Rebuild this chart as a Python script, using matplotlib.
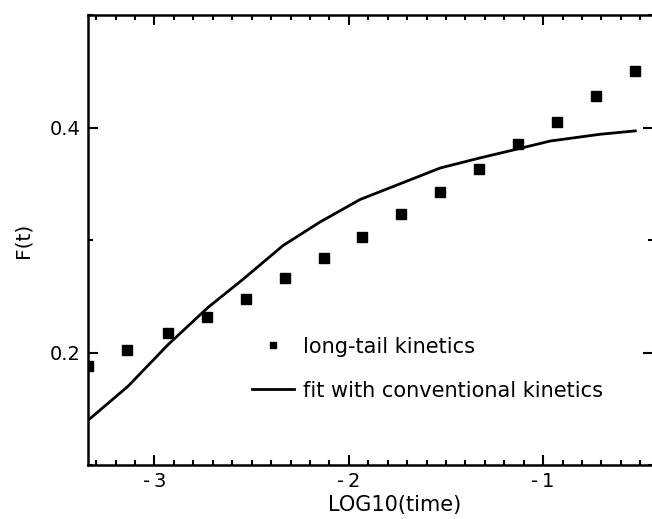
import matplotlib
matplotlib.use('Agg')
import matplotlib.pyplot as plt
from matplotlib.ticker import MultipleLocator, FixedLocator

plt.rcParams['font.family'] = ['DejaVu Sans']
plt.rcParams['axes.unicode_minus'] = False

# long-tail kinetics (squares)
log_t = [-3.34, -3.14, -2.93, -2.73, -2.53, -2.33, -2.13, -1.93,
         -1.73, -1.53, -1.33, -1.13, -0.93, -0.73, -0.53]
f_long = [0.188, 0.202, 0.217, 0.232, 0.248, 0.266, 0.284, 0.303,
          0.323, 0.343, 0.363, 0.385, 0.405, 0.428, 0.450]

# fit with conventional kinetics (line)
fit_x = [-3.34, -3.136, -2.93, -2.725, -2.545, -2.339, -2.148, -1.942,
         -1.721, -1.53, -1.324, -1.154, -0.963, -0.706, -0.526]
fit_y = [0.140, 0.170, 0.207, 0.240, 0.265, 0.295, 0.316, 0.336,
         0.351, 0.364, 0.373, 0.380, 0.388, 0.394, 0.397]

xticks = [-3, -2, -1]
xticklabels = ['-\u20093', '-\u20092', '-\u20091']
yticks = [0.2, 0.4]
yticklabels = ['0.2', '0.4']

fig = plt.figure(figsize=(6.52, 5.19), dpi=100)
ax = fig.add_axes([88/652, 1 - 465/519, 565/652, 450/519])

ax.plot(log_t, f_long, 'ks', ms=7, linestyle='none', label='long-tail kinetics')
ax.plot(fit_x, fit_y, 'k-', lw=2, label='fit with conventional kinetics')

ax.set_xlim(-3.342, -0.435)
ax.set_ylim(0.1, 0.5)

ax.set_xticks(xticks)
ax.set_xticklabels(xticklabels)
ax.xaxis.set_minor_locator(MultipleLocator(0.1))
ax.set_yticks(yticks)
ax.set_yticklabels(yticklabels)
ax.yaxis.set_minor_locator(FixedLocator([0.1, 0.3, 0.5]))

ax.tick_params(which='both', direction='in', top=True, right=True, labelsize=14, width=1.5)
ax.tick_params(which='major', length=7.5)
ax.tick_params(axis='y', which='major', pad=5)
ax.tick_params(axis='x', which='major', pad=5)
ax.tick_params(which='minor', length=3.5)
for s in ['left', 'top', 'bottom']:
    ax.spines[s].set_linewidth(1.8)
ax.spines['right'].set_visible(False)

ax.set_xlabel('LOG10(time)', fontsize=15)
ax.xaxis.set_label_coords((395 - 88) / 565, -0.066)
ax.set_ylabel('F(t)', fontsize=14.5)
ax.yaxis.set_label_coords(-0.099, 0.5)

ax.legend(loc='upper left', bbox_to_anchor=(0.29, 0.285), frameon=False,
          fontsize=15, markerscale=0.6, handlelength=2.0, handletextpad=0.45,
          labelspacing=1.15, borderpad=0, borderaxespad=0)

fig.savefig('out.png', dpi=100)
